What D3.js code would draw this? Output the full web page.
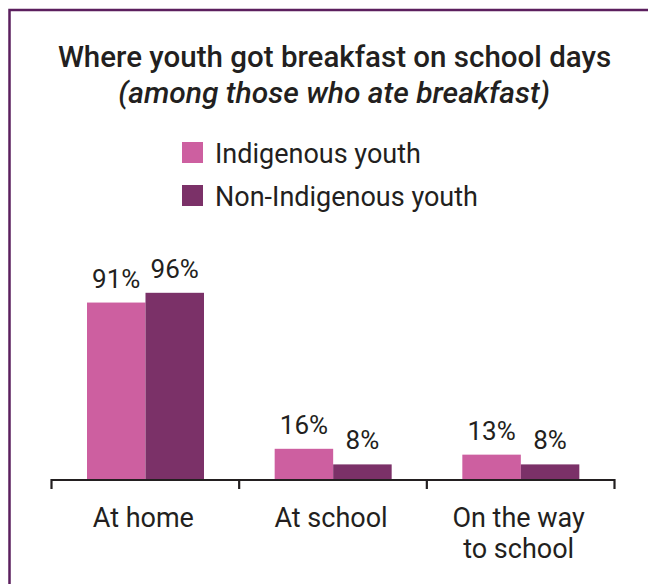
<!DOCTYPE html>
<html>
<head>
<meta charset="utf-8">
<script src="https://cdn.jsdelivr.net/npm/d3@7"></script>
<style>
  html, body { margin: 0; padding: 0; background: #fff; }
  svg { display: block; }
  text { font-family: Roboto, "Noto Sans", sans-serif; fill: #231f20; }
</style>
</head>
<body>
<svg id="chart" width="648" height="584"></svg>
<script>
// Breakfast location on school days, share of youth who ate breakfast (%)
const categories = [["At home"], ["At school"], ["On the way", "to school"]];
const seriesNames = ["Indigenous youth", "Non-Indigenous youth"];
const indigenous = [91, 16, 13];
const nonIndigenous = [96, 8, 8];
const seriesColors = ["#cd5fa0", "#7b3168"];

const titleText = "Where youth got breakfast on school days";
const subtitleText = "(among those who ate breakfast)";

const svg = d3.select("#chart");

// Outer frame (runs off the right and bottom edges)
svg.append("rect")
  .attr("x", 9.5).attr("y", 10)
  .attr("width", 700).attr("height", 700)
  .attr("fill", "none")
  .attr("stroke", "#5b1f5e")
  .attr("stroke-width", 2.5);

// Titles
svg.append("text")
  .attr("x", 334.5).attr("y", 67)
  .attr("text-anchor", "middle")
  .style("font-size", "29.5px").style("font-weight", 500)
  .text(titleText);
svg.append("text")
  .attr("x", 334).attr("y", 103)
  .attr("text-anchor", "middle")
  .style("font-size", "30px").style("font-weight", 500).style("font-style", "italic")
  .text(subtitleText);

// Legend
const legend = svg.append("g").attr("transform", "translate(182,142)");
seriesNames.forEach((name, i) => {
  const g = legend.append("g").attr("transform", `translate(0,${i * 43})`);
  g.append("rect").attr("width", 21).attr("height", 21).attr("fill", seriesColors[i]);
  g.append("text").attr("x", 33).attr("y", 20.5)
    .style("font-size", "27px").text(name);
});

// Scales
const x0 = d3.scaleBand().domain(d3.range(categories.length)).range([51.5, 614.5]).paddingInner(0).paddingOuter(0);
const x1 = d3.scaleBand().domain(d3.range(seriesNames.length)).range([35.5, 152.5]);
const y = d3.scaleLinear().domain([0, 100]).range([480, 285]);

const data = categories.map((c, i) => [indigenous[i], nonIndigenous[i]]);

const groups = svg.append("g").selectAll("g").data(data).join("g")
  .attr("transform", (d, i) => `translate(${x0(i)},0)`);

groups.selectAll("rect").data(d => d).join("rect")
  .attr("x", (d, j) => x1(j))
  .attr("width", x1.bandwidth())
  .attr("y", d => y(d))
  .attr("height", d => y(0) - y(d))
  .attr("fill", (d, j) => seriesColors[j]);

groups.selectAll("text.val").data(d => d).join("text")
  .attr("class", "val")
  .attr("x", (d, j) => x1(j) + x1.bandwidth() / 2)
  .attr("y", d => y(d) - 15)
  .attr("text-anchor", "middle")
  .style("font-size", "26px")
  .text(d => d + "%");

// Category axis with tick marks at band edges
const axis = svg.append("g");
axis.append("line")
  .attr("x1", x0.range()[0]).attr("x2", x0.range()[1])
  .attr("y1", 480).attr("y2", 480)
  .attr("stroke", "#231f20").attr("stroke-width", 2.2);
const edges = x0.domain().map(i => x0(i)).concat([x0.range()[1]]);
axis.selectAll("line.tick").data(edges).join("line")
  .attr("class", "tick")
  .attr("x1", d => d).attr("x2", d => d)
  .attr("y1", 479).attr("y2", 489)
  .attr("stroke", "#231f20").attr("stroke-width", 2.2);

const labels = axis.selectAll("text").data(categories).join("text")
  .attr("text-anchor", "middle")
  .attr("transform", (d, i) => `translate(${x0(i) + x0.bandwidth() / 2 - 2},527)`)
  .style("font-size", "27px");
labels.selectAll("tspan").data(d => d).join("tspan")
  .attr("x", 0).attr("dy", (d, k) => k === 0 ? 0 : 31)
  .text(d => d);
</script>
</body>
</html>
